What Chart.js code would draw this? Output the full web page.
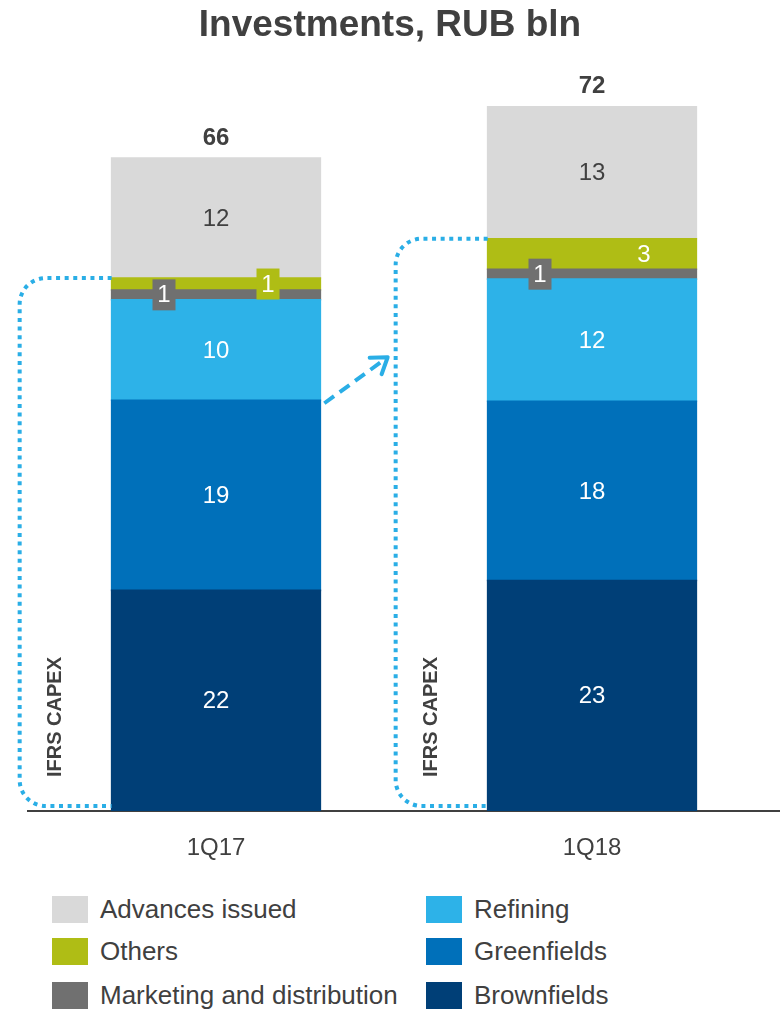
<!DOCTYPE html>
<html>
<head>
<meta charset="utf-8">
<script src="https://cdn.jsdelivr.net/npm/chart.js@4.4.1/dist/chart.umd.min.js"></script>
<style>
  body { margin: 0; background: #fff; font-family: "Liberation Sans", Arial, sans-serif; }
  #wrap { position: relative; width: 780px; height: 1010px; }
  #title { position: absolute; left: 0; top: 3px; width: 780px; text-align: center; font-weight: bold; font-size: 37px; color: #404040; }
  #chartBox { position: absolute; left: 0; top: 0; width: 780px; height: 880px; }
  .leg { position: absolute; font-size: 26px; color: #404040; white-space: nowrap; line-height: 27px; }
  .leg span { display: inline-block; width: 36px; height: 27px; vertical-align: top; margin-right: 12px; }
</style>
</head>
<body>
<div id="wrap">
  <div id="chartBox"><canvas id="chart" width="780" height="880"></canvas></div>
  <div id="title">Investments, RUB bln</div>
  <div id="legend"></div>
</div>
<script>
var categories = ['1Q17', '1Q18'];
var brownfields = [22.4, 23.4];
var greenfields = [19.3, 18.2];
var refining = [10.2, 12.4];
var marketing = [1.0, 1.0];
var others = [1.2, 3.1];
var advances = [12.2, 13.4];

var seriesNames = ['Brownfields', 'Greenfields', 'Refining', 'Marketing and distribution', 'Others', 'Advances issued'];
var seriesData = [brownfields, greenfields, refining, marketing, others, advances];
var seriesColors = ['#003f77', '#0070ba', '#2db2e8', '#707070', '#afbd15', '#d9d9d9'];
var labelOffsets = [0, 0, 0, -52, 52, 0];
var dotBlue = '#2aaee6';
var textDark = '#404040';

var annotate = {
    id: 'annotate',
    afterDatasetsDraw(chart) {
        let ctx = chart.ctx;
        let yScale = chart.scales.y;
        ctx.save();
        ctx.textAlign = 'center';
        ctx.textBaseline = 'middle';

        // segment labels
        seriesData.forEach((arr, i) => {
            let meta = chart.getDatasetMeta(i);
            meta.data.forEach((bar, j) => {
                let h = bar.base - bar.y;
                let cx = bar.x + labelOffsets[i];
                let cy = (bar.y + bar.base) / 2;
                if (h < 25) {
                    ctx.fillStyle = seriesColors[i];
                    ctx.fillRect(cx - 11.5, cy - 15.5, 23, 31);
                }
                ctx.fillStyle = i == 5 ? textDark : '#ffffff';
                ctx.font = '24px "Liberation Sans", Arial, sans-serif';
                ctx.fillText(Math.round(arr[j]), cx, cy + 1);
            });
        });

        // totals
        let topMeta = chart.getDatasetMeta(5);
        topMeta.data.forEach((bar, j) => {
            let total = seriesData.reduce((s, a) => s + a[j], 0);
            ctx.fillStyle = textDark;
            ctx.font = 'bold 24px "Liberation Sans", Arial, sans-serif';
            ctx.fillText(Math.round(total), bar.x, bar.y - 20);
        });

        // IFRS CAPEX brackets
        let bottom = yScale.getPixelForValue(0) - 5;
        let left = [];
        chart.getDatasetMeta(0).data.forEach((bar, j) => {
            let capex = seriesData.slice(0, 5).reduce((s, a) => s + a[j], 0);
            let top = yScale.getPixelForValue(capex);
            let edge = bar.x - bar.width / 2;
            let lx = edge - 92, r = 26;
            left.push(lx);
            ctx.beginPath();
            ctx.setLineDash([4, 4.6]);
            ctx.lineWidth = 4;
            ctx.strokeStyle = dotBlue;
            ctx.moveTo(edge, top);
            ctx.lineTo(lx + r, top);
            ctx.arcTo(lx, top, lx, top + r, r);
            ctx.lineTo(lx, bottom - r);
            ctx.arcTo(lx, bottom, lx + r, bottom, r);
            ctx.lineTo(edge, bottom);
            ctx.stroke();

            ctx.save();
            ctx.translate(lx + 36, 717);
            ctx.rotate(-Math.PI / 2);
            ctx.setLineDash([]);
            ctx.fillStyle = textDark;
            ctx.font = 'bold 20px "Liberation Sans", Arial, sans-serif';
            ctx.fillText('IFRS CAPEX', 0, 0);
            ctx.restore();
        });

        // arrow between periods
        let b0 = chart.getDatasetMeta(0).data[0];
        let sx = b0.x + b0.width / 2 + 4;
        let sy = yScale.getPixelForValue(brownfields[0] + greenfields[0]) + 3;
        let ex = left[1] - 8, ey = sy - 46;
        ctx.setLineDash([12, 7]);
        ctx.lineWidth = 4;
        ctx.strokeStyle = dotBlue;
        ctx.beginPath();
        ctx.moveTo(sx, sy);
        ctx.lineTo(ex, ey);
        ctx.stroke();
        let ang = Math.atan2(ey - sy, ex - sx);
        ctx.setLineDash([]);
        ctx.lineCap = 'round';
        ctx.lineJoin = 'round';
        ctx.beginPath();
        ctx.moveTo(ex - 18 * Math.cos(ang - 0.6), ey - 18 * Math.sin(ang - 0.6));
        ctx.lineTo(ex, ey);
        ctx.lineTo(ex - 18 * Math.cos(ang + 0.6), ey - 18 * Math.sin(ang + 0.6));
        ctx.stroke();
        ctx.restore();
    }
};

new Chart(document.getElementById('chart'), {
    type: 'bar',
    data: {
        labels: categories,
        datasets: seriesData.map((d, i) => ({
            label: seriesNames[i], data: d, backgroundColor: seriesColors[i],
            borderWidth: 0, inflateAmount: 0.8, barPercentage: 0.555, categoryPercentage: 1
        }))
    },
    options: {
        responsive: false, animation: false,
        layout: { padding: { top: 23, left: 28, right: 0, bottom: 0 } },
        plugins: { legend: { display: false }, tooltip: { enabled: false } },
        scales: {
            x: {
                stacked: true,
                grid: { display: false },
                border: { display: true, color: textDark, width: 2 },
                ticks: { color: textDark, padding: 15, font: { size: 24, family: '"Liberation Sans", Arial, sans-serif' } },
                afterFit: s => { s.height = 69; }
            },
            y: { stacked: true, display: false, min: 0, max: 80 }
        }
    },
    plugins: [annotate]
});

// legend: two columns, three rows
var legendOrder = [5, 4, 3, 2, 1, 0];
var legendHtml = '';
legendOrder.forEach((s, k) => {
    let col = Math.floor(k / 3), row = k % 3;
    let x = col == 0 ? 52 : 426;
    let y = [896, 938, 982][row];
    legendHtml += '<div class="leg" style="left:' + x + 'px;top:' + y + 'px"><span style="background:' + seriesColors[s] + '"></span>' + seriesNames[s] + '</div>';
});
document.getElementById('legend').innerHTML = legendHtml;
</script>
</body>
</html>
